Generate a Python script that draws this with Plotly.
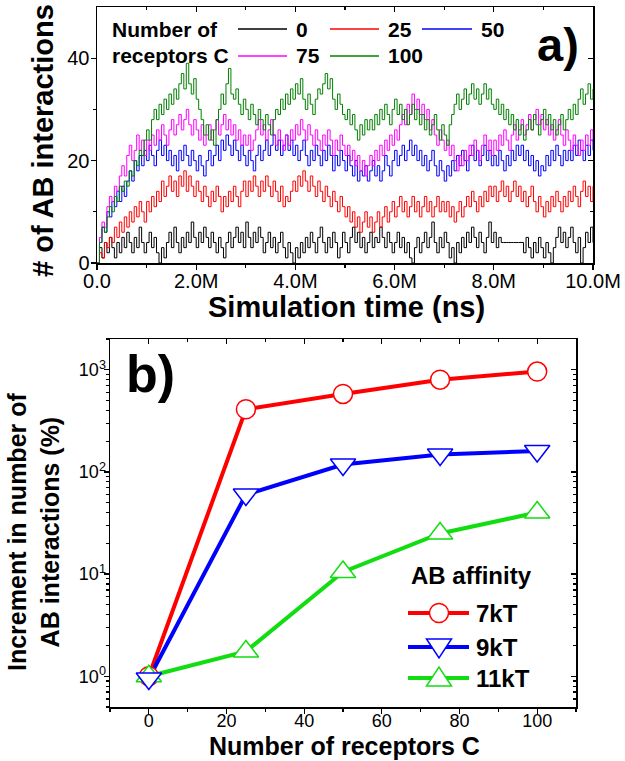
import numpy as np
import plotly.graph_objects as go

# ---------------- Panel a) data (number of AB interactions vs time) ----------------
receptor_counts = ["0", "25", "50", "75", "100"]
time_end_ns = 10.0e6

ab_c0 = [0, 3, 1, 4, 2, 5, 3, 1, 4, 2,
         5, 3, 6, 4, 2, 5, 3, 7, 4, 2,
         4, 6, 3, 5, 2, 0, 3, 1, 4, 6,
         3, 7, 4, 2, 5, 3, 6, 4, 8, 5,
         3, 6, 4, 7, 5, 3, 6, 4, 2, 5,
         3, 1, 4, 6, 3, 5, 7, 4, 6, 3,
         8, 5, 3, 6, 4, 7, 5, 2, 4, 6,
         3, 5, 2, 4, 6, 3, 1, 4, 2, 0,
         3, 1, 4, 2, 5, 3, 6, 4, 2, 5,
         7, 4, 2, 5, 3, 6, 4, 1, 3, 6,
         4, 2, 5, 7, 4, 6, 3, 5, 2, 4,
         6, 3, 5, 4, 7, 5, 3, 6, 4, 2,
         4, 6, 3, 5, 2, 4, 1, 0, 3, 5,
         2, 4, 6, 3, 5, 8, 4, 2, 5, 3,
         6, 4, 1, 3, 0, 4, 2, 5, 3, 6,
         4, 7, 5, 3, 6, 4, 2, 5, 8, 4,
         6, 3, 5, 4, 4, 4, 4, 4, 4, 4,
         4, 4, 2, 5, 3, 1, 4, 2, 5, 3,
         1, 4, 2, 0, 3, 5, 7, 4, 6, 3,
         5, 7, 4, 2, 5, 0, 3, 6, 4, 7,
         4]

ab_c25 = [0, 2, 1, 4, 3, 5, 4, 7, 5, 8,
          6, 9, 7, 10, 8, 11, 9, 12, 10, 8,
          12, 10, 13, 11, 14, 12, 16, 13, 15, 17,
          14, 16, 13, 17, 15, 18, 14, 17, 15, 13,
          16, 14, 12, 15, 13, 11, 14, 12, 15, 13,
          10, 13, 11, 14, 12, 15, 13, 11, 14, 16,
          13, 16, 14, 17, 15, 13, 16, 14, 17, 15,
          13, 16, 14, 12, 15, 11, 13, 12, 14, 16,
          14, 17, 15, 18, 16, 14, 17, 15, 13, 16,
          14, 12, 15, 13, 11, 14, 12, 10, 13, 11,
          9, 11, 8, 10, 7, 9, 6, 8, 10, 7,
          9, 6, 8, 10, 7, 9, 11, 8, 10, 12,
          9, 11, 13, 10, 12, 9, 11, 13, 10, 12,
          9, 11, 13, 10, 12, 9, 11, 13, 10, 12,
          10, 12, 9, 11, 8, 10, 12, 9, 11, 13,
          11, 14, 12, 10, 13, 11, 14, 12, 15, 13,
          15, 12, 14, 16, 13, 15, 12, 14, 16, 13,
          15, 12, 14, 11, 13, 15, 12, 10, 13, 11,
          9, 12, 10, 13, 11, 14, 12, 10, 13, 11,
          14, 12, 15, 13, 11, 14, 16, 13, 15, 12,
          15]

ab_c50 = [0, 4, 7, 6, 10, 9, 12, 11, 14, 12,
          15, 13, 16, 18, 16, 20, 18, 21, 19, 22,
          20, 23, 21, 19, 22, 24, 21, 23, 20, 22,
          19, 21, 18, 22, 20, 23, 21, 19, 22, 20,
          18, 21, 19, 17, 20, 22, 19, 21, 23, 20,
          24, 22, 25, 23, 21, 24, 22, 20, 23, 21,
          19, 22, 20, 18, 21, 23, 20, 22, 24, 21,
          23, 25, 22, 24, 21, 23, 25, 22, 24, 21,
          23, 20, 22, 24, 21, 19, 22, 20, 23, 21,
          19, 22, 20, 23, 21, 18, 21, 19, 22, 20,
          18, 21, 19, 17, 20, 16, 18, 17, 19, 16,
          18, 20, 17, 19, 16, 18, 21, 19, 17, 20,
          22, 19, 21, 23, 20, 22, 24, 21, 23, 20,
          22, 19, 21, 18, 20, 22, 19, 17, 20, 18,
          16, 19, 17, 20, 18, 21, 19, 22, 20, 18,
          21, 23, 20, 22, 19, 21, 23, 20, 22, 19,
          21, 19, 22, 20, 18, 21, 19, 22, 20, 23,
          21, 23, 20, 22, 19, 21, 18, 20, 17, 19,
          18, 21, 19, 22, 20, 23, 21, 19, 22, 20,
          22, 20, 23, 21, 24, 22, 20, 23, 21, 24,
          22]

ab_c75 = [0, 5, 8, 7, 11, 13, 12, 15, 14, 17,
          19, 17, 21, 23, 20, 22, 25, 22, 24, 21,
          24, 22, 25, 23, 26, 24, 27, 25, 23, 26,
          28, 25, 27, 29, 26, 28, 30, 27, 25, 28,
          26, 24, 27, 23, 25, 27, 24, 26, 28, 25,
          27, 29, 26, 28, 25, 27, 24, 26, 23, 25,
          23, 25, 22, 24, 26, 28, 25, 27, 24, 26,
          28, 25, 23, 26, 24, 22, 25, 23, 26, 24,
          27, 25, 28, 26, 24, 27, 25, 23, 26, 24,
          22, 25, 23, 26, 24, 21, 24, 22, 25, 23,
          21, 23, 20, 22, 19, 21, 18, 20, 17, 19,
          21, 19, 22, 20, 23, 21, 24, 22, 25, 23,
          26, 24, 27, 29, 27, 31, 29, 33, 30, 32,
          29, 31, 28, 30, 26, 28, 25, 23, 26, 24,
          22, 24, 21, 23, 20, 18, 21, 19, 22, 20,
          23, 21, 24, 22, 20, 23, 25, 22, 24, 21,
          24, 22, 25, 23, 26, 24, 22, 25, 27, 24,
          26, 28, 25, 27, 29, 26, 28, 30, 27, 29,
          26, 28, 25, 27, 24, 26, 28, 25, 23, 26,
          24, 22, 25, 23, 21, 24, 22, 25, 23, 26,
          24]

ab_c100 = [0, 4, 7, 6, 9, 11, 10, 13, 12, 15,
           14, 16, 15, 18, 17, 20, 19, 22, 21, 24,
           26, 24, 28, 30, 28, 31, 29, 32, 30, 33,
           31, 34, 32, 35, 37, 34, 39, 35, 33, 36,
           32, 30, 28, 25, 27, 24, 26, 23, 28, 30,
           33, 31, 35, 38, 33, 32, 34, 31, 29, 32,
           30, 28, 31, 29, 27, 30, 28, 26, 29, 27,
           25, 28, 30, 29, 32, 30, 33, 31, 34, 32,
           35, 33, 36, 32, 30, 33, 31, 29, 32, 34,
           33, 35, 37, 34, 36, 32, 30, 33, 31, 29,
           28, 30, 27, 29, 26, 24, 27, 25, 28, 26,
           28, 26, 29, 27, 30, 28, 31, 29, 27, 30,
           32, 29, 31, 28, 30, 27, 29, 31, 28, 30,
           27, 29, 26, 28, 25, 27, 29, 26, 24, 27,
           25, 23, 27, 29, 31, 33, 30, 32, 34, 31,
           33, 35, 32, 34, 31, 33, 35, 32, 34, 31,
           30, 32, 29, 31, 28, 30, 27, 29, 26, 28,
           25, 27, 24, 26, 28, 26, 29, 27, 25, 28,
           30, 27, 29, 26, 28, 25, 27, 29, 26, 28,
           30, 28, 31, 29, 32, 34, 31, 33, 35, 32,
           34]

top_x_tickvals = [0, 2e6, 4e6, 6e6, 8e6, 10e6]
top_x_ticktext = ["0.0", "2.0M", "4.0M", "6.0M", "8.0M", "10.0M"]
top_x_minor = [1e6, 3e6, 5e6, 7e6, 9e6]
top_y_tickvals = [0, 20, 40]
top_y_minor = [10, 30]

# ---------------- Panel b) data (increment vs receptors) ----------------
receptors_c = [0, 25, 50, 75, 100]
increment_7kT = [1.0, 410, 580, 800, 960]
increment_9kT = [0.95, 60, 118, 148, 160]
increment_11kT = [1.0, 1.75, 10.5, 25, 40]
affinity_labels = ["7kT", "9kT", "11kT"]
bot_y_tickvals = [1, 10, 100, 1000]
bot_y_ticktext = ["10<sup>0</sup>", "10<sup>1</sup>", "10<sup>2</sup>", "10<sup>3</sup>"]

# ---------------- styling ----------------
W, H = 625, 761
FONT = "Liberation Sans, Arial, sans-serif"
top_colors = ["#000000", "#ff0000", "#0000ff", "#ff00ff", "#008000"]
bot_colors = ["#ff0000", "#0000ff", "#11dd11"]
bot_symbols = ["circle", "triangle-down", "triangle-up"]


def X(px):
    return px / W


def Y(py):
    return 1 - py / H


fig = go.Figure()

series_top = [ab_c0, ab_c25, ab_c50, ab_c75, ab_c100]
for name, vals, col in zip(receptor_counts, series_top, top_colors):
    t = np.linspace(0, time_end_ns, len(vals))
    fig.add_trace(go.Scatter(x=t, y=vals, mode="lines", name=name,
                             line=dict(color=col, width=1, shape="hv"),
                             xaxis="x", yaxis="y", showlegend=False))

series_bot = [increment_7kT, increment_9kT, increment_11kT]
for name, vals, col in zip(affinity_labels, series_bot, bot_colors):
    fig.add_trace(go.Scatter(x=receptors_c, y=vals, mode="lines", name=name,
                             line=dict(color=col, width=4),
                             xaxis="x2", yaxis="y2", showlegend=False))
# markers drawn after all lines; order red, green, blue (blue on top at x=0)
for idx in [0, 2, 1]:
    fig.add_trace(go.Scatter(x=receptors_c, y=series_bot[idx], mode="markers",
                             name=affinity_labels[idx],
                             marker=dict(symbol=bot_symbols[idx],
                                         size=19 if idx == 0 else 22,
                                         color="white",
                                         line=dict(color=bot_colors[idx], width=1.5)),
                             xaxis="x2", yaxis="y2", showlegend=False))

# empty traces so the mirror (top / right) frame axes get drawn
fig.add_trace(go.Scatter(x=[None], y=[None], xaxis="x3", yaxis="y3",
                         showlegend=False, hoverinfo="skip"))
fig.add_trace(go.Scatter(x=[None], y=[None], xaxis="x4", yaxis="y4",
                         showlegend=False, hoverinfo="skip"))

axis_common = dict(showline=True, linecolor="black", linewidth=1.5, showgrid=False,
                   zeroline=False, ticks="outside", tickcolor="black", tickwidth=1.2,
                   ticklen=5, automargin=False)

top_xdom = [X(97), X(593)]
top_ydom = [Y(263), Y(7)]
bot_xdom = [X(110), X(576)]
bot_ydom = [Y(707), Y(339)]

fig.update_layout(
    width=W, height=H,
    margin=dict(l=0, r=0, t=0, b=0),
    paper_bgcolor="white", plot_bgcolor="white",
    font=dict(family=FONT, color="black"),
    xaxis=dict(axis_common, domain=top_xdom, anchor="y", range=[0, time_end_ns],
               tickmode="array", tickvals=top_x_tickvals, ticktext=top_x_ticktext,
               tickfont=dict(size=20), ticklabelstandoff=-6,
               minor=dict(tickmode="array", tickvals=top_x_minor,
                          ticks="outside", ticklen=3, tickcolor="black")),
    yaxis=dict(axis_common, domain=top_ydom, anchor="x", range=[0, 50],
               tickmode="array", tickvals=top_y_tickvals, tickfont=dict(size=20),
               ticklabelstandoff=-3,
               minor=dict(tickmode="array", tickvals=top_y_minor,
                          ticks="outside", ticklen=3, tickcolor="black")),
    xaxis3=dict(axis_common, overlaying="x", anchor="y", side="top", range=[0, time_end_ns],
                ticks="inside", tickmode="array", tickvals=top_x_tickvals,
                showticklabels=False,
                minor=dict(tickmode="array", tickvals=top_x_minor,
                           ticks="inside", ticklen=3, tickcolor="black")),
    yaxis3=dict(axis_common, overlaying="y", anchor="x", side="right", range=[0, 50],
                ticks="inside", tickmode="array", tickvals=top_y_tickvals,
                showticklabels=False,
                minor=dict(tickmode="array", tickvals=top_y_minor,
                           ticks="inside", ticklen=3, tickcolor="black")),
    xaxis2=dict(axis_common, domain=bot_xdom, anchor="y2", range=[-10, 110],
                tick0=0, dtick=20, tickfont=dict(size=18), ticklabelstandoff=-8,
                minor=dict(dtick=10, ticks="outside", ticklen=3, tickcolor="black")),
    yaxis2=dict(axis_common, domain=bot_ydom, anchor="x2", type="log",
                range=[np.log10(0.5), np.log10(2000)],
                tickmode="array", tickvals=bot_y_tickvals, ticktext=bot_y_ticktext,
                tickfont=dict(size=18), ticklabelstandoff=-6,
                minor=dict(dtick="D1", ticks="outside", ticklen=3, tickcolor="black")),
    xaxis4=dict(axis_common, overlaying="x2", anchor="y2", side="top", range=[-10, 110],
                ticks="inside", tick0=0, dtick=20, showticklabels=False,
                minor=dict(dtick=10, ticks="inside", ticklen=3, tickcolor="black")),
    yaxis4=dict(axis_common, overlaying="y2", anchor="x2", side="right", type="log",
                range=[np.log10(0.5), np.log10(2000)], ticks="inside",
                tickmode="array", tickvals=bot_y_tickvals, showticklabels=False,
                minor=dict(dtick="D1", ticks="inside", ticklen=3, tickcolor="black")),
)

ann = []


def text(px, py, s, size, xanchor="center", angle=0, bold=True):
    ann.append(dict(x=X(px), y=Y(py), xref="paper", yref="paper", text=s,
                    showarrow=False, xanchor=xanchor, yanchor="middle",
                    textangle=angle,
                    font=dict(size=size, family=FONT, color="black",
                              weight="bold" if bold else "normal")))


# axis titles
text(43, 141, "# of AB interactions", 29, angle=-90)
text(346, 307, "Simulation time (ns)", 29)
text(33, 532, "Increment in number of<br>AB interactions (%)", 25, angle=-90)
text(344, 746, "Number of receptors C", 25)

# panel labels
text(558, 44, "a)", 47)
text(150, 374, "b)", 52)

# top legend
text(110, 29, "Number of", 21, xanchor="left")
text(110, 56, "receptors C", 21, xanchor="left")
shapes = []
leg_top = [(238, 287, 29), (330, 379, 29), (422, 472, 29), (238, 287, 56), (330, 379, 56)]
for (x0, x1, yy), col, lab in zip(leg_top, top_colors, receptor_counts):
    shapes.append(dict(type="line", xref="paper", yref="paper", x0=X(x0), x1=X(x1),
                       y0=Y(yy), y1=Y(yy), line=dict(color=col, width=1.5)))
    text(x1 + 7, yy, lab, 21, xanchor="left")

# bottom legend
text(409, 575, "AB affinity", 24, xanchor="left")
leg_rows = [613, 647, 678]
for i, (yy, col, lab) in enumerate(zip(leg_rows, bot_colors, affinity_labels)):
    shapes.append(dict(type="line", xref="paper", yref="paper", x0=X(408), x1=X(469),
                       y0=Y(yy), y1=Y(yy), line=dict(color=col, width=4)))
    cx = 439
    if i == 0:
        r = 9.5
        shapes.append(dict(type="circle", xref="paper", yref="paper",
                           x0=X(cx - r), x1=X(cx + r), y0=Y(yy + r), y1=Y(yy - r),
                           fillcolor="white", line=dict(color=col, width=1.5)))
    else:
        hw, hh = 12.5, 9.5
        if i == 1:
            pts = [(cx - hw, yy - hh * 0.85), (cx + hw, yy - hh * 0.85), (cx, yy + hh * 1.15)]
        else:
            pts = [(cx - hw, yy + hh * 0.85), (cx + hw, yy + hh * 0.85), (cx, yy - hh * 1.15)]
        path = "M {} {} L {} {} L {} {} Z".format(X(pts[0][0]), Y(pts[0][1]),
                                                   X(pts[1][0]), Y(pts[1][1]),
                                                   X(pts[2][0]), Y(pts[2][1]))
        shapes.append(dict(type="path", xref="paper", yref="paper", path=path,
                           fillcolor="white", line=dict(color=col, width=1.5)))
    text(474, yy, lab, 24, xanchor="left")

fig.update_layout(annotations=ann, shapes=shapes)
# remove the default 8px page margin so the 625x761 figure fills the window exactly
fig.write_html("out.html",
               config={"displayModeBar": False, "staticPlot": True},
               post_script="document.body.style.margin='0px';"
                           "document.body.style.overflow='hidden';")
